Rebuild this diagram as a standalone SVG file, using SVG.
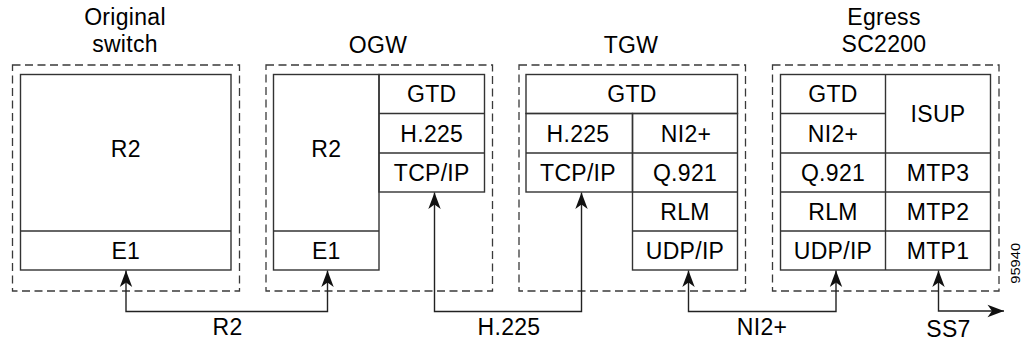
<svg xmlns="http://www.w3.org/2000/svg" width="1028" height="343" viewBox="0 0 1028 343">
  <style>
    .dash { fill: none; stroke: #3a3a3a; stroke-width: 1.3; stroke-dasharray: 8 4.5; }
    .box { fill: none; stroke: #333; stroke-width: 1.4; }
    .ln { fill: none; stroke: #333; stroke-width: 1.4; }
    .t { font-family: "Liberation Sans", Arial, Helvetica, sans-serif; font-size: 23px; fill: #000; text-anchor: middle; letter-spacing: 0.3px; }
    .conn { fill: none; stroke: #222; stroke-width: 1.4; marker-start: url(#ah); marker-end: url(#ah); }
    .id { font-family: "Liberation Sans", Arial, Helvetica, sans-serif; font-size: 12px; fill: #000; text-anchor: middle; }
  </style>
  <defs>
    <marker id="ah" markerUnits="userSpaceOnUse" markerWidth="18" markerHeight="14" viewBox="-17 -7 18 14" refX="0" refY="0" orient="auto-start-reverse">
      <path d="M0,0 L-16.5,-6.2 L-12,0 L-16.5,6.2 Z" fill="#111"/>
    </marker>
  </defs>

  <g id="original-switch">
    <text class="t" x="125" y="24.5">Original</text>
    <text class="t" x="125" y="51.5">switch</text>
    <rect class="dash" x="12.5" y="65" width="227" height="226"/>
    <rect class="box" x="20.5" y="74.5" width="210.5" height="195.5"/>
    <line class="ln" x1="20.5" y1="231" x2="231" y2="231"/>
    <text class="t" x="125.75" y="157">R2</text>
    <text class="t" x="125.75" y="259">E1</text>
  </g>

  <g id="ogw">
    <text class="t" x="378" y="53.3">OGW</text>
    <rect class="dash" x="266" y="65" width="226.5" height="226"/>
    <rect class="box" x="273.5" y="74.5" width="105.5" height="195.5"/>
    <line class="ln" x1="273.5" y1="231" x2="379" y2="231"/>
    <rect class="box" x="379" y="74.5" width="105.5" height="117.5"/>
    <line class="ln" x1="379" y1="113.5" x2="484.5" y2="113.5"/>
    <line class="ln" x1="379" y1="153" x2="484.5" y2="153"/>
    <text class="t" x="326.25" y="157">R2</text>
    <text class="t" x="326.25" y="259">E1</text>
    <text class="t" x="431.75" y="102.3">GTD</text>
    <text class="t" x="431.75" y="141.5">H.225</text>
    <text class="t" x="431.75" y="180.8">TCP/IP</text>
  </g>

  <g id="tgw">
    <text class="t" x="631" y="53.3">TGW</text>
    <rect class="dash" x="519" y="65" width="226.5" height="226"/>
    <rect class="box" x="526" y="74.5" width="211.5" height="39"/>
    <rect class="box" x="526" y="113.5" width="106.5" height="78.5"/>
    <line class="ln" x1="526" y1="153" x2="632.5" y2="153"/>
    <rect class="box" x="632.5" y="113.5" width="105" height="156.5"/>
    <line class="ln" x1="632.5" y1="153" x2="737.5" y2="153"/>
    <line class="ln" x1="632.5" y1="192" x2="737.5" y2="192"/>
    <line class="ln" x1="632.5" y1="231" x2="737.5" y2="231"/>
    <text class="t" x="632" y="102.3">GTD</text>
    <text class="t" x="578" y="141.5">H.225</text>
    <text class="t" x="578" y="180.8">TCP/IP</text>
    <text class="t" x="686" y="141.5">NI2+</text>
    <text class="t" x="685" y="180.8">Q.921</text>
    <text class="t" x="685" y="219.8">RLM</text>
    <text class="t" x="685" y="258.8">UDP/IP</text>
  </g>

  <g id="egress-sc2200">
    <text class="t" x="884" y="24.5">Egress</text>
    <text class="t" x="884" y="51.7">SC2200</text>
    <rect class="dash" x="772.5" y="65" width="226.5" height="226"/>
    <rect class="box" x="780.5" y="74.5" width="210" height="195.5"/>
    <line class="ln" x1="885.5" y1="74.5" x2="885.5" y2="270"/>
    <line class="ln" x1="780.5" y1="113.5" x2="885.5" y2="113.5"/>
    <line class="ln" x1="780.5" y1="153" x2="990.5" y2="153"/>
    <line class="ln" x1="780.5" y1="192" x2="990.5" y2="192"/>
    <line class="ln" x1="780.5" y1="231" x2="990.5" y2="231"/>
    <text class="t" x="833" y="102.3">GTD</text>
    <text class="t" x="833" y="141.5">NI2+</text>
    <text class="t" x="833" y="180.8">Q.921</text>
    <text class="t" x="833" y="219.8">RLM</text>
    <text class="t" x="833" y="258.8">UDP/IP</text>
    <text class="t" x="938" y="122">ISUP</text>
    <text class="t" x="938" y="180.8">MTP3</text>
    <text class="t" x="938" y="219.8">MTP2</text>
    <text class="t" x="938" y="258.8">MTP1</text>
  </g>

  <g id="connectors">
    <path class="conn" d="M126,270.5 V311.5 H327.5 V270.5"/>
    <path class="conn" d="M434.5,192.5 V311.5 H581.5 V192.5"/>
    <path class="conn" d="M688.5,270.5 V311.5 H836 V270.5"/>
    <path class="conn" d="M938.5,270.5 V311 H1004"/>
    <text class="t" x="227.5" y="335">R2</text>
    <text class="t" x="509" y="335">H.225</text>
    <text class="t" x="762" y="335">NI2+</text>
    <text class="t" x="948.5" y="336.5">SS7</text>
  </g>

  <text class="id" x="0" y="0" transform="translate(1020,263.3) rotate(-90)" textLength="41" lengthAdjust="spacingAndGlyphs">95940</text>
</svg>
